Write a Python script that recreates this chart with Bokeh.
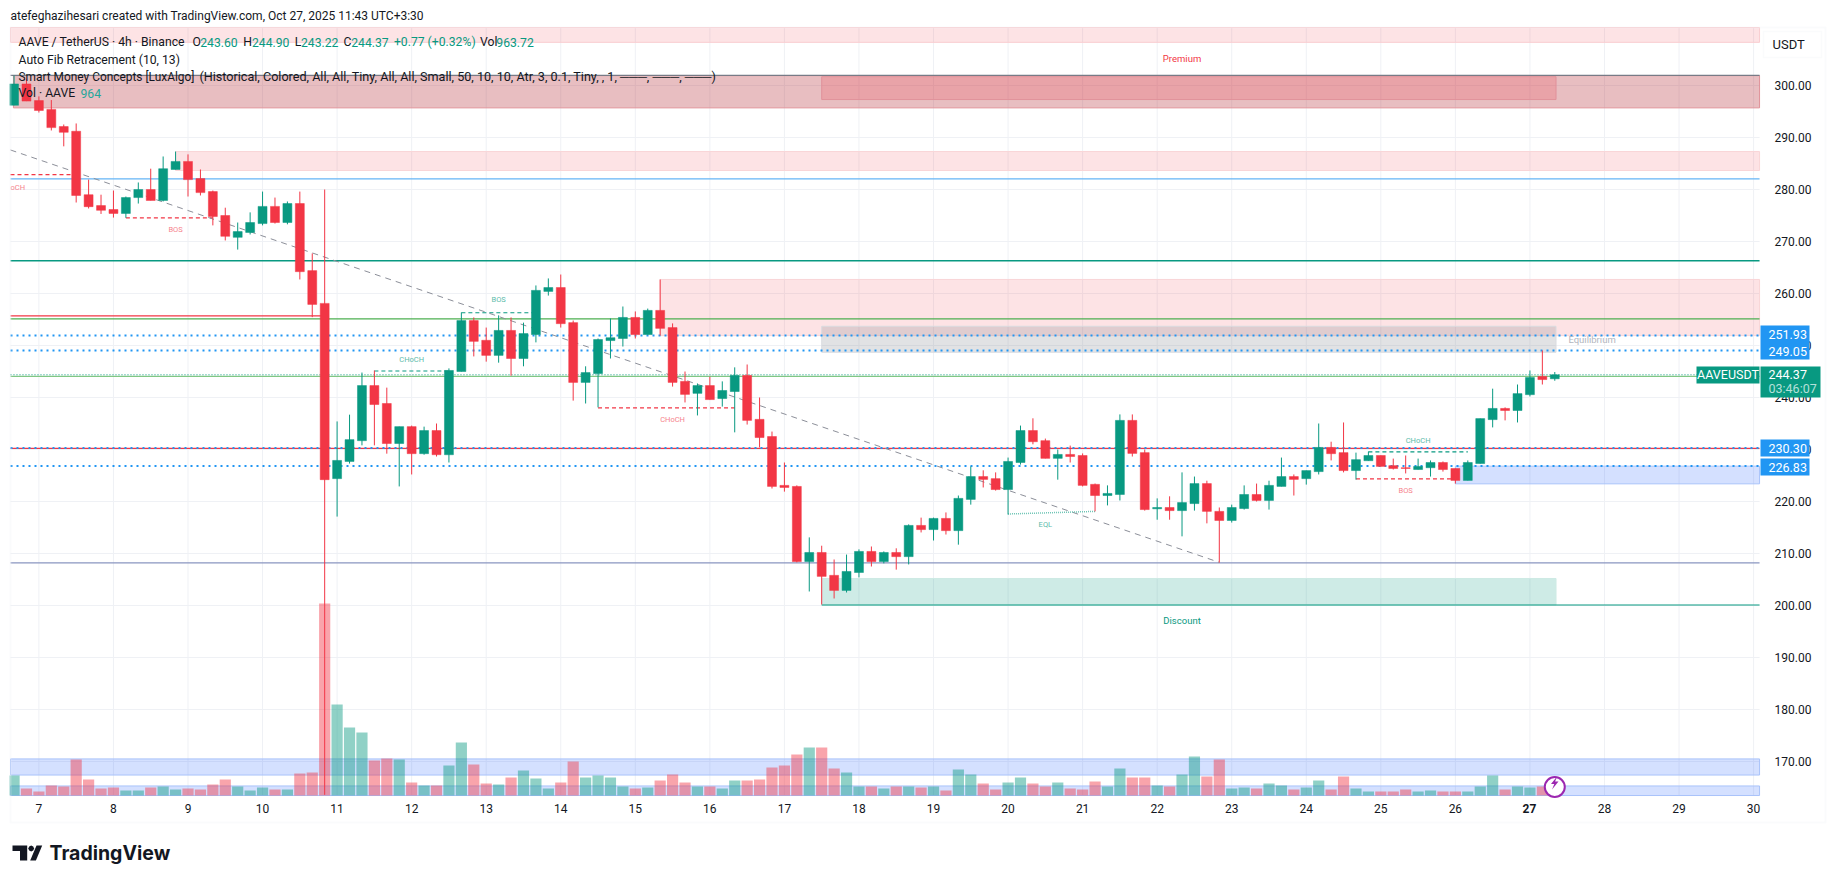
from bokeh.plotting import figure
from bokeh.embed import file_html
from bokeh.resources import INLINE
from bokeh.core.properties import value
from bokeh.models import (FixedTicker, Label, Range1d, PolyAnnotation, NumeralTickFormatter)

# ---------- candles (first bar is index -2; index 0 = day 7 00:00)
opens = [296.2,300.3,297.1,295.4,292.1,291.2,279.0,276.9,276.15,275.4,278.45,280.0,277.9,283.85,285.4,282.1,279.6,275.0,270.8,271.75,273.45,276.75,273.65,277.3,264.4,258.1,
224.4,227.7,231.7,242.3,238.85,231.15,234.4,229.2,233.65,229.0,245.0,254.8,251.0,248.1,252.9,247.5,252.1,260.4,261.15,254.4,242.9,244.6,250.95,
251.35,255.4,252.1,256.75,253.45,243.1,240.8,242.3,239.8,241.15,244.25,235.8,232.5,223.1,222.9,208.45,210.2,205.8,202.9,206.35,210.4,208.45,210.2,209.4,215.4,214.6,216.75,214.4,220.4,224.8,224.4,222.3,227.5,233.65,231.7,228.3,229.05,228.85,223.3,221.15,221.35,235.6,229.4,218.6,218.85,218.25,219.6,223.45,
218.1,216.35,218.65,221.35,220.2,222.9,224.8,224.4,225.75,230.4,229.4,225.95,227.85,228.85,226.9,226.5,226.15,226.5,227.5,226.35,224.05,227.3,235.75,237.9,237.5,240.55,244.05,243.6]
highs = [301.9,301.3,297.9,297.2,292.5,292.7,281.9,279.0,279.8,278.65,281.35,284.0,286.35,287.3,286.75,283.85,279.8,276.5,273.65,275.6,279.6,278.45,277.7,279.6,267.7,280.0,
235.4,236.7,244.8,245.2,241.9,234.4,234.6,234.4,235.0,245.6,256.35,255.4,253.45,255.8,255.4,254.4,261.55,262.9,263.65,254.8,246.0,251.35,255.2,
257.5,256.55,257.1,262.7,254.25,245.0,242.7,244.0,243.1,245.8,246.35,240.0,233.45,227.5,223.1,213.1,211.5,208.85,209.8,210.8,211.35,210.4,211.0,215.6,216.9,216.9,217.9,221.15,226.75,226.0,225.6,228.45,234.6,236.0,232.1,230.0,230.75,229.25,223.45,223.1,236.75,236.75,230.0,220.6,221.0,225.6,224.8,224.0,
218.85,219.4,223.1,223.45,224.0,228.45,225.2,225.95,235.0,231.5,235.2,229.4,229.6,228.85,228.25,228.85,228.25,227.9,227.7,226.35,227.9,235.95,241.7,238.1,242.5,245.2,249.05,244.9]
lows = [296.2,297.0,294.8,291.35,288.3,277.5,276.35,275.3,274.6,274.55,277.3,277.9,277.7,283.85,278.65,278.85,273.1,270.2,268.45,271.35,273.1,273.45,273.3,262.7,255.45,163.6,
217.1,227.3,230.8,230.8,229.2,222.9,225.2,229.0,228.65,227.5,245.0,247.9,246.9,246.7,244.2,246.0,250.6,259.6,253.45,239.4,238.85,238.1,247.5,
249.8,251.35,252.1,251.9,242.1,239.05,236.55,239.6,238.25,233.3,234.8,230.4,222.5,221.9,208.3,202.7,200.2,201.35,202.5,205.4,207.5,208.1,206.9,207.9,214.05,212.5,213.65,211.7,219.4,222.7,222.1,217.5,227.1,231.0,228.3,224.2,227.5,222.9,218.1,219.25,220.2,228.65,218.25,216.5,216.5,213.3,218.25,215.8,
208.25,215.95,218.45,220.0,218.45,222.9,221.15,223.25,225.2,227.9,225.6,224.2,227.85,226.75,226.15,225.4,226.15,224.8,225.75,223.45,224.05,227.3,234.25,235.6,235.2,240.2,242.5,243.22]
closes = [300.3,297.0,295.2,291.9,291.0,278.85,276.7,276.0,275.4,278.45,280.0,277.9,284.0,285.4,281.9,279.4,274.8,271.0,271.9,273.65,276.75,273.65,277.3,264.2,257.9,224.2,
227.9,231.9,242.3,238.65,231.15,234.4,229.2,233.65,229.0,245.2,254.8,250.8,248.1,252.9,247.5,252.3,260.6,261.15,254.2,242.9,244.8,251.15,251.5,
255.4,252.1,256.75,253.3,242.9,240.6,242.3,239.6,241.35,244.25,235.6,232.3,222.9,222.7,208.45,210.2,205.6,202.9,206.55,210.4,208.45,210.2,209.4,215.4,214.6,216.75,214.4,220.6,224.8,224.25,222.3,227.7,233.65,231.5,228.3,229.05,228.65,223.1,221.15,221.55,235.6,229.25,218.45,218.85,218.25,219.8,223.45,218.1,
216.35,218.85,221.35,220.2,223.1,224.8,224.25,225.95,230.4,229.2,225.95,228.05,228.85,226.75,226.35,226.35,226.75,227.5,226.15,224.05,227.5,235.95,237.9,237.5,240.75,243.85,243.45,244.37]
# volume, thousands of AAVE
volumes = [12,4.2,2.4,6,5.4,21.6,9.6,4.2,4.8,3,3,4.8,5.4,3.6,4.2,3.6,6.6,9.6,5.4,3,4.8,3.6,3.6,13.2,13.8,115.2,
54.6,40.8,37.8,21,22.2,21.6,7.8,6,6,18,31.8,18.6,7.2,6.6,10.8,15,10.2,4.2,7.8,20.4,10.8,12,10.8,5.4,
4.2,4.8,9,12.6,7.8,5.4,5.4,4.2,9,9,9.6,16.8,18,24.6,28.8,28.8,16.2,13.8,5.4,5.4,4.2,5.4,5.4,4.8,5.4,3,15.6,12.6,7.2,3.6,7.8,10.8,7.2,5.4,7.8,4.2,3.6,8.4,5.4,16.2,10.8,10.8,6,5.4,12.6,23.4,11.4,21.6,
4.2,4.8,4.2,7.2,6,3.6,4.8,9,3.6,11.4,4.2,2.4,2.4,2.4,3.6,2.4,3,2.4,2.4,2.4,5.4,12,3.6,5.4,4.8,5.4,0.964]
first_index = -2

# ---------- axis labels
day_labels = ["7","8","9","10","11","12","13","14","15","16","17","18","19","20","21","22","23","24","25","26","27","28","29","30"]
price_ticks = [170,180,190,200,210,220,230,240,250,260,270,280,290,300]

# ---------- pane limits in data units
x_start, x_end = -2.286, 138.48
y_start, y_end = 163.46, 311.15

# ---------- zones
zone_left   = [x_start,-2.05,63,11,50,63,114,63,x_start,x_start]
zone_right  = [x_end,x_end,122.1,x_end,x_end,122.1,x_end,122.1,x_end,x_end]
zone_bottom = [308.3,295.7,297.3,283.65,251.9,248.7,223.4,200.1,167.4,y_start]
zone_top    = [y_end,301.9,301.7,287.3,262.7,253.7,226.8,205.2,170.5,165.3]
zone_fill   = ["#F23645","#B22833","#F23645","#F23645","#F23645","#787B86","#2962FF","#089981","#2962FF","#2962FF"]
zone_alpha  = [0.14,0.3,0.2,0.14,0.14,0.22,0.2,0.2,0.2,0.2]
zone_line   = ["#F9CDD0","#E0929A","#E0929A","#F9D5D7","#F9D5D7","#DADCE0","#A9C3FA","#CDEAE4","#A9C3FA","#A9C3FA"]

# ---------- levels
level_prices = [282.05,266.3,255.13,244.05,230.2,208.2,301.95]
level_colors = ["#64B5F6","#089981","#4CAF50","#81C784","#F23645","#8A96C0","#787B86"]
dotted_prices = [251.93,249.05,230.30,226.83]
last_price = 244.37

# segment levels: start, end, price, colour, dash
seg_x0 = [x_start,7,27,34,45,107,106,x_start,63]
seg_x1 = [3,14,33,40,56,115,114,23,x_end]
seg_y  = [282.85,274.55,245.1,256.3,238.0,229.55,224.35,255.7,200.1]
seg_col = ["#F23645","#F23645","#089981","#089981","#F23645","#089981","#F23645","#F23645","#089981"]
seg_dashed = [True,True,True,True,True,True,True,False,False]

trend_x = [-2.286,95]
trend_y = [287.6,208.3]
eql_x = [78,85]
eql_y = [217.6,218.1]

# ---------- pattern labels
smc_x = [11,30,37,51,81,111,110,-1.7]
smc_y = [272.25,247.4,258.8,235.8,215.65,231.8,222.05,280.45]
smc_text = ["BOS","CHoCH","BOS","CHoCH","EQL","CHoCH","BOS","oCH"]
smc_col = ["#F6838C","#5BBBAA","#5BBBAA","#F6838C","#5BBBAA","#5BBBAA","#F6838C","#F6838C"]
zone_label_x = [92,92,125]
zone_label_y = [305.1,197.1,251.15]
zone_label_text = ["Premium","Discount","Equilibrium"]
zone_label_col = ["#F23645","#089981","#B2B5BE"]

GREEN, RED = "#089981", "#F23645"
FONT = "Roboto"

n = len(opens)
idx = [first_index + i for i in range(n)]
colors = [GREEN if c >= o else RED for o, c in zip(opens, closes)]

# Frame covers the whole canvas so that header, logo and price tags are not clipped.
p = figure(width=1830, height=875, output_backend="svg", toolbar_location=None,
           x_range=Range1d(-3.0905, 144.19), y_range=Range1d(148.08, 316.346),
           y_axis_location="right", min_border=0, min_border_left=0, min_border_right=0,
           min_border_top=0, min_border_bottom=0, background_fill_color="white",
           border_fill_color="white", outline_line_color=None)
p.extra_y_ranges = {"vol": Range1d(-48, 477)}
p.grid.visible = False

# axes
day_ticks = [i * 6 for i in range(len(day_labels))]
for ax in (p.xaxis[0], p.yaxis[0]):
    ax.axis_line_color = None
    ax.major_tick_line_color = None
    ax.minor_tick_line_color = None
    ax.major_label_text_font = FONT
    ax.major_label_text_font_size = "12px"
    ax.major_label_text_color = "#131722"
p.xaxis[0].ticker = FixedTicker(ticks=day_ticks)
p.xaxis[0].major_label_overrides = {t: ("" if l == "27" else l) for t, l in zip(day_ticks, day_labels)}
p.xaxis[0].major_label_standoff = 2
p.xaxis[0].fixed_location = y_start
p.yaxis[0].ticker = FixedTicker(ticks=price_ticks)
p.yaxis[0].formatter = NumeralTickFormatter(format="0.00")
p.yaxis[0].major_label_standoff = 9
p.yaxis[0].fixed_location = x_end

# grid lines limited to the pane
GRID = "#EFF1F5"
p.segment(x0=day_ticks, x1=day_ticks, y0=y_start, y1=y_end, line_color=GRID, line_width=1)
p.segment(x0=x_start, x1=x_end, y0=price_ticks, y1=price_ticks, line_color=GRID, line_width=1)

# zones
p.quad(left=zone_left, right=zone_right, bottom=zone_bottom, top=zone_top,
       fill_color=zone_fill, fill_alpha=zone_alpha, line_color=zone_line, line_width=1)

# volume
p.vbar(x=idx, top=volumes, bottom=0, width=0.9, y_range_name="vol",
       fill_color=colors, fill_alpha=0.45, line_color=None)

# levels
for y, c in zip(level_prices, level_colors):
    p.line([x_start, x_end], [y, y], line_color=c, line_width=1.3)
for y in dotted_prices:
    p.line([x_start, x_end], [y, y], line_color="#2196F3", line_width=2, line_dash=[2, 4])
p.line([x_start, x_end], [last_price, last_price], line_color=GREEN, line_width=1, line_dash=[1, 2])
for x0, x1, y, c, d in zip(seg_x0, seg_x1, seg_y, seg_col, seg_dashed):
    p.line([x0, x1], [y, y], line_color=c, line_width=1.2, line_dash=[4, 3] if d else [])
p.line(trend_x, trend_y, line_color="#8C8F99", line_width=1, line_dash=[6, 5])
p.line(eql_x, eql_y, line_color="#6CC4B4", line_width=1.5, line_dash=[1, 1])

# candles
p.segment(x0=idx, x1=idx, y0=lows, y1=highs, line_color=colors, line_width=1)
p.vbar(x=idx, bottom=opens, top=closes, width=0.72, fill_color=colors, line_color=colors, line_width=0.5)

# pattern labels
p.text(x=smc_x, y=smc_y, text=smc_text, text_color=smc_col, text_font=value(FONT), text_font_size=value("7.5px"),
       text_align="center", text_baseline="middle")
p.text(x=zone_label_x, y=zone_label_y, text=zone_label_text, text_color=zone_label_col, text_font=value(FONT),
       text_font_size=value("9.5px"), text_align="center", text_baseline="middle")

def txt(s, x, y, color="#131722", size=12.2, align="left", style="normal", font=FONT):
    p.add_layout(Label(x=x, y=y, x_units="canvas", y_units="canvas", text=s, text_color=color,
                       text_font_size=f"{size}px", text_font=font, text_align=align,
                       text_baseline="middle", text_font_style=style, level="overlay"))

def poly(xs, ys, fill, line=None, lw=1, fa=1.0):
    p.add_layout(PolyAnnotation(xs=xs, ys=ys, xs_units="canvas", ys_units="canvas",
                                fill_color=fill, fill_alpha=fa, line_color=line, line_width=lw, level="overlay"))

# left mask + outer frame
poly([0, 9, 9, 0], [27, 27, 796, 796], "white")
poly([10, 1825, 1825, 10], [27, 27, 822, 822], None, "#F0F1F4", 2, 0)

# header
txt("atefeghazihesari created with TradingView.com, Oct 27, 2025 11:43 UTC+3:30", 10, 15, size=12)
txt("AAVE / TetherUS · 4h · Binance", 18, 41.7)
for s, x, c in [("O",192,"#131722"),("243.60",199.7,GREEN),("H",242.8,"#131722"),("244.90",251.5,GREEN),
                ("L",294.2,"#131722"),("243.22",300.5,GREEN),("C",343,"#131722"),("244.37",350.7,GREEN),
                ("+0.77 (+0.32%)",393.4,GREEN),("Vol",479.6,"#131722"),("963.72",495.8,GREEN)]:
    txt(s, x, 41.7, c)
txt("Auto Fib Retracement (10, 13)", 18, 59)
txt("Smart Money Concepts [LuxAlgo]", 18, 76, size=11.9)
txt("(Historical, Colored, All, All, Tiny, All, All, Small, 50, 10, 10, Atr, 3, 0.1, Tiny, , 1, ───, ───, ───)", 199, 76, size=12.6)
txt("Vol · AAVE", 18, 92.7)
txt("964", 80, 92.7, "#26A69A")

# USDT box
poly([1763, 1821, 1821, 1763], [31, 31, 57, 57], "white", "#F0F1F4", 1.5)
txt("USDT", 1772, 44, size=13)

# bold current-day axis label
txt("27", 1529, 807.5, size=12, align="center", style="bold")

# price tags
BLUE = "#2196F3"
poly([1760, 1809, 1809, 1760], [325, 325, 359, 359], BLUE)
poly([1760, 1809, 1809, 1760], [439, 439, 456, 456], BLUE)
poly([1760, 1809, 1809, 1760], [458, 458, 475, 475], BLUE)
poly([1760, 1820, 1820, 1760], [366, 366, 397, 397], GREEN)
poly([1696, 1759, 1759, 1696], [366, 366, 383, 383], GREEN)
for s, y in [("251.93",333.5),("249.05",350.7),("230.30",447.7),("226.83",466.7)]:
    txt(s, 1768, y, "white", 12.5)
txt("244.37", 1768, 374.3, "white", 12.5)
txt("03:46:07", 1768, 388.3, "#B5E0D9", 12.5)
txt("AAVEUSDT", 1727.5, 374.3, "white", 12.5, "center")

# flash icon
p.scatter(x=[122], y=[165.1], size=20, marker="circle", fill_color="white", line_color="#9C27B0", line_width=2, level="overlay")
poly([1556.5, 1550.5, 1553.8, 1551.5, 1558, 1554.6], [776, 783.5, 783.5, 789, 781, 781], "#9C27B0")

# logo
poly([12, 26.7, 26.7, 19.5, 19.5, 12], [845, 845, 860, 860, 850.5, 850.5], "#131722")
poly([36, 41.7, 35.4, 29.7], [845, 845, 860, 860], "#131722")
poly([30.7+2.9*c for c in (1,0.7,0,-0.7,-1,-0.7,0,0.7)], [848+2.9*s for s in (0,0.7,1,0.7,0,-0.7,-1,-0.7)], "#131722")
txt("TradingView", 49, 852.5, "#131722", 19.5, style="bold", font="Inter")

open("out.html", "w").write(file_html(p, INLINE))
